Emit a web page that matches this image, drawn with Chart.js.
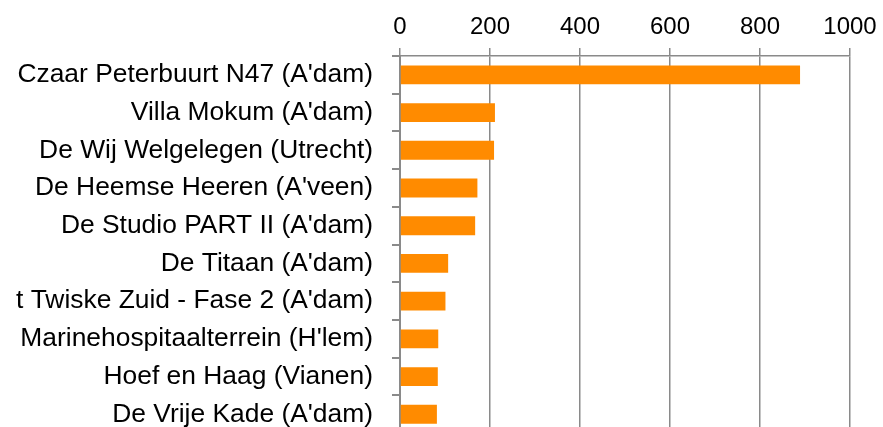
<!DOCTYPE html>
<html>
<head>
<meta charset="utf-8">
<script src="https://cdn.jsdelivr.net/npm/chart.js@4/dist/chart.umd.min.js"></script>
<style>
html,body{margin:0;padding:0;background:#fff;overflow:hidden;}
canvas{display:block;}
</style>
</head>
<body>
<canvas id="c" width="883" height="468" style="width:883px;height:468px;"></canvas>
<script>
const categories = [
  "Czaar Peterbuurt N47 (A'dam)",
  "Villa Mokum (A'dam)",
  "De Wij Welgelegen (Utrecht)",
  "De Heemse Heeren (A'veen)",
  "De Studio PART II (A'dam)",
  "De Titaan (A'dam)",
  "t Twiske Zuid - Fase 2 (A'dam)",
  "Marinehospitaalterrein (H'lem)",
  "Hoef en Haag (Vianen)",
  "De Vrije Kade (A'dam)"
];
const values = [889, 211, 209, 172, 167, 107, 101, 85, 84, 82];
const xTicks = [0, 200, 400, 600, 800, 1000];

const FONT = "'Liberation Sans', Arial, sans-serif";
Chart.defaults.font.family = FONT;
Chart.defaults.color = '#000';

new Chart(document.getElementById('c'), {
  type: 'bar',
  data: {
    labels: categories,
    datasets: [{
      data: values,
      backgroundColor: '#ff8b00',
      borderWidth: 0,
      barPercentage: 0.5,
      categoryPercentage: 1.0
    }]
  },
  options: {
    indexAxis: 'y',
    responsive: false,
    maintainAspectRatio: false,
    devicePixelRatio: 1,
    animation: false,
    layout: { padding: { top: 0, right: 33, bottom: 8, left: 0 } },
    plugins: { legend: { display: false }, tooltip: { enabled: false } },
    scales: {
      x: {
        position: 'top',
        min: 0, max: 1000,
        afterBuildTicks: (s) => { s.ticks = xTicks.map(v => ({ value: v })); },
        afterFit: (s) => { s.height = 56; },
        ticks: { font: { size: 24 }, color: '#000', padding: 6, maxRotation: 0,
                 callback: (v) => String(v) },
        grid: { color: '#8a8a8a', lineWidth: 1.5, tickLength: 8, drawTicks: true },
        border: { display: true, color: '#8a8a8a', width: 1.5 }
      },
      y: {
        afterFit: (s) => { s.width = 400; },
        ticks: { font: { size: 26.4 }, color: '#000', padding: 19, autoSkip: false },
        grid: { drawOnChartArea: false, color: '#8a8a8a', lineWidth: 2, tickLength: 8 },
        border: { display: true, color: '#8a8a8a', width: 2 }
      }
    }
  }
});
</script>
</body>
</html>
